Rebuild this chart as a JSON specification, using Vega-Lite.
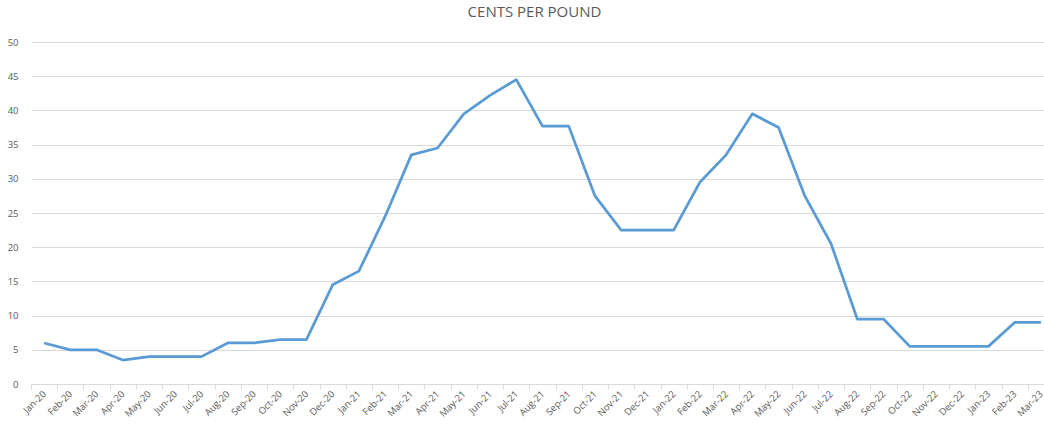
{
  "$schema": "https://vega.github.io/schema/vega-lite/v6.json",
  "autosize": "none",
  "padding": {"left": 31, "top": 42, "right": 0, "bottom": 42},
  "width": 1013,
  "height": 342,
  "background": "white",
  "title": {
    "text": "CENTS PER POUND",
    "font": "Open Sans",
    "fontSize": 15,
    "fontWeight": "normal",
    "color": "#595959",
    "anchor": "middle",
    "offset": 17,
    "dx": -3
  },
  "config": {"view": {"stroke": null}},
  "data": {
    "values": [
      {"month": "Jan-20", "cents": 6},
      {"month": "Feb-20", "cents": 5},
      {"month": "Mar-20", "cents": 5},
      {"month": "Apr-20", "cents": 3.5},
      {"month": "May-20", "cents": 4},
      {"month": "Jun-20", "cents": 4},
      {"month": "Jul-20", "cents": 4},
      {"month": "Aug-20", "cents": 6},
      {"month": "Sep-20", "cents": 6},
      {"month": "Oct-20", "cents": 6.5},
      {"month": "Nov-20", "cents": 6.5},
      {"month": "Dec-20", "cents": 14.5},
      {"month": "Jan-21", "cents": 16.5},
      {"month": "Feb-21", "cents": 24.5},
      {"month": "Mar-21", "cents": 33.5},
      {"month": "Apr-21", "cents": 34.5},
      {"month": "May-21", "cents": 39.5},
      {"month": "Jun-21", "cents": 42.2},
      {"month": "Jul-21", "cents": 44.5},
      {"month": "Aug-21", "cents": 37.7},
      {"month": "Sep-21", "cents": 37.7},
      {"month": "Oct-21", "cents": 27.5},
      {"month": "Nov-21", "cents": 22.5},
      {"month": "Dec-21", "cents": 22.5},
      {"month": "Jan-22", "cents": 22.5},
      {"month": "Feb-22", "cents": 29.5},
      {"month": "Mar-22", "cents": 33.5},
      {"month": "Apr-22", "cents": 39.5},
      {"month": "May-22", "cents": 37.5},
      {"month": "Jun-22", "cents": 27.5},
      {"month": "Jul-22", "cents": 20.5},
      {"month": "Aug-22", "cents": 9.5},
      {"month": "Sep-22", "cents": 9.5},
      {"month": "Oct-22", "cents": 5.5},
      {"month": "Nov-22", "cents": 5.5},
      {"month": "Dec-22", "cents": 5.5},
      {"month": "Jan-23", "cents": 5.5},
      {"month": "Feb-23", "cents": 9},
      {"month": "Mar-23", "cents": 9}
    ]
  },
  "mark": {"type": "line", "color": "#5B9BD5", "strokeWidth": 2.75, "strokeJoin": "round"},
  "encoding": {
    "x": {
      "field": "month",
      "type": "ordinal",
      "sort": null,
      "scale": {"type": "band", "paddingInner": 0, "paddingOuter": 0, "range": [0, 1023]},
      "axis": {
        "title": null,
        "labelAngle": -45,
        "labelAlign": "right",
        "labelBaseline": "middle",
        "labelFont": "Open Sans",
        "labelFontSize": 9.5,
        "labelColor": "#595959",
        "labelPadding": 3,
        "labelOverlap": false,
        "labelBound": false,
        "domainColor": "#d9d9d9",
        "domainWidth": 1,
        "tickColor": "#d9d9d9",
        "tickSize": 5,
        "tickBand": "extent",
        "grid": false
      }
    },
    "y": {
      "field": "cents",
      "type": "quantitative",
      "scale": {"domain": [0, 50], "nice": false},
      "axis": {
        "title": null,
        "values": [0, 5, 10, 15, 20, 25, 30, 35, 40, 45, 50],
        "labelFont": "Open Sans",
        "labelFontSize": 9.5,
        "labelColor": "#595959",
        "labelPadding": 13,
        "ticks": false,
        "domain": false,
        "gridColor": "#d9d9d9",
        "gridWidth": 1
      }
    }
  }
}
